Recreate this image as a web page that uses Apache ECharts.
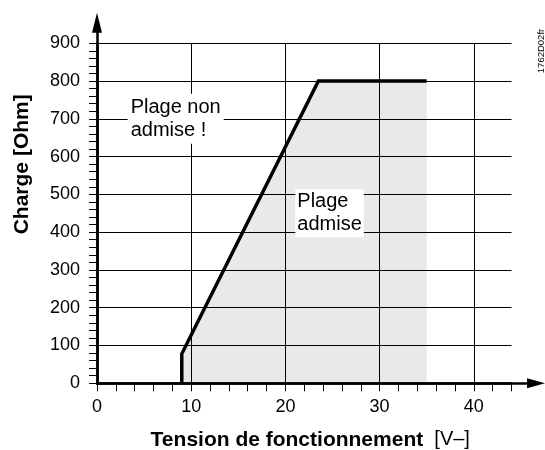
<!DOCTYPE html>
<html>
<head>
<meta charset="utf-8">
<script src="https://cdn.jsdelivr.net/npm/echarts@6/dist/echarts.min.js"></script>
<style>
  html, body { margin: 0; padding: 0; background: #fff; }
  #chart { width: 545px; height: 450px; }
</style>
</head>
<body>
<div id="chart"></div>
<script>
// Operating curve: load resistance vs supply voltage
var voltage = [9, 9, 23.5, 35];
var load = [0, 78, 800, 800];

// Zone annotations
var zoneNames = ['Plage non\nadmise !', 'Plage\nadmise'];

var FONT = "'Liberation Sans', Arial, sans-serif";
var BLACK = '#000';

var myChart = echarts.init(document.getElementById('chart'), null, { renderer: 'canvas' });

var curve = voltage.map(function (v, i) { return [v, load[i]]; });

var zoneLabel = {
    fontSize: 20,
    lineHeight: 23,
    fontFamily: FONT,
    color: BLACK,
    opacity: 1,
    textBorderWidth: 0,
    textShadowBlur: 0
};

var option = {
    animation: false,
    backgroundColor: '#fff',
    textStyle: { fontFamily: FONT, color: BLACK },
    grid: [
        // main plotting area
        { left: 97, right: 33.5, top: 43.3, bottom: 66.7, outerBoundsMode: 'none' },
        // longer axes, only for the arrows
        { left: 97, right: 9, top: 22.7, bottom: 66.7, outerBoundsMode: 'none' }
    ],
    graphic: [
        {
            type: 'text',
            x: 541.5,
            y: 51,
            rotation: Math.PI / 2,
            style: {
                text: '1762D02fr',
                fontSize: 9.5,
                fontFamily: FONT,
                fill: BLACK,
                align: 'center',
                verticalAlign: 'middle'
            }
        }
    ],
    xAxis: [
        {
            gridIndex: 0,
            type: 'value',
            min: 0,
            max: 44,
            interval: 10,
            axisLine: { show: true, lineStyle: { color: BLACK, width: 2.5 } },
            axisTick: { show: true, length: 8, lineStyle: { color: BLACK, width: 1 } },
            minorTick: { show: true, splitNumber: 5, length: 8, lineStyle: { color: BLACK, width: 1 } },
            axisLabel: { fontSize: 18, color: BLACK, margin: 15, showMaxLabel: false, fontFamily: FONT },
            splitLine: { show: true, showMinLine: false, showMaxLine: false, lineStyle: { color: BLACK, width: 1 } },
            name: '{b|Tension de fonctionnement}  {r|[V–]}',
            nameLocation: 'middle',
            nameGap: 46,
            nameMoveOverlap: false,
            nameTextStyle: {
                fontSize: 20,
                color: BLACK,
                fontFamily: FONT,
                padding: [0, 0, 0, 12],
                rich: {
                    b: { fontWeight: 'bold', fontSize: 21, fontFamily: FONT, color: BLACK },
                    r: { fontSize: 20, fontFamily: FONT, color: BLACK }
                }
            }
        },
        {
            gridIndex: 1,
            type: 'value',
            min: 0,
            max: 1,
            axisLine: {
                show: true,
                symbol: ['none', 'triangle'],
                symbolSize: [10, 18],
                lineStyle: { color: BLACK, width: 2.5 }
            },
            axisTick: { show: false },
            axisLabel: { show: false },
            splitLine: { show: false }
        }
    ],
    yAxis: [
        {
            gridIndex: 0,
            type: 'value',
            min: 0,
            max: 900,
            interval: 100,
            axisLine: { show: true, lineStyle: { color: BLACK, width: 2.5 } },
            axisTick: { show: true, length: 8, lineStyle: { color: BLACK, width: 1 } },
            minorTick: { show: true, splitNumber: 5, length: 8, lineStyle: { color: BLACK, width: 1 } },
            axisLabel: { fontSize: 18, color: BLACK, margin: 17, fontFamily: FONT },
            splitLine: { show: true, showMinLine: false, lineStyle: { color: BLACK, width: 1 } },
            name: 'Charge [Ohm]',
            nameLocation: 'middle',
            nameGap: 64,
            nameMoveOverlap: false,
            nameTextStyle: {
                fontWeight: 'bold',
                fontSize: 21,
                color: BLACK,
                fontFamily: FONT,
                padding: [0, 0, 0, 98]
            }
        },
        {
            gridIndex: 1,
            type: 'value',
            min: 0,
            max: 1,
            axisLine: {
                show: true,
                symbol: ['none', 'triangle'],
                symbolSize: [10, 20],
                lineStyle: { color: BLACK, width: 2.5 }
            },
            axisTick: { show: false },
            axisLabel: { show: false },
            splitLine: { show: false }
        }
    ],
    series: [
        {
            type: 'line',
            xAxisIndex: 0,
            yAxisIndex: 0,
            data: curve,
            showSymbol: false,
            symbol: 'none',
            lineStyle: { color: BLACK, width: 3.5, join: 'miter' },
            // translucent so the grid shows through the admissible zone
            areaStyle: { color: 'rgba(0,0,0,0.12)', origin: 'start' },
            z: 3
        },
        {
            type: 'scatter',
            xAxisIndex: 0,
            yAxisIndex: 0,
            symbolSize: 1,
            itemStyle: { color: '#fff', opacity: 0 },
            z: 5,
            label: {
                show: true,
                position: 'right',
                distance: 0,
                align: 'left',
                verticalAlign: 'middle',
                formatter: function (p) { return '{t|' + p.name.split('\n').join('}\n{t|') + '}'; },
                backgroundColor: '#fff',
                opacity: 1,
                rich: { t: zoneLabel }
            },
            data: [
                { name: zoneNames[0], value: [3.2, 700], label: { padding: [2, 3, 2, 3] } },
                { name: zoneNames[1], value: [21, 450], label: { padding: [1, 2, 1, 2] } }
            ]
        }
    ]
};

myChart.setOption(option);
</script>
</body>
</html>
